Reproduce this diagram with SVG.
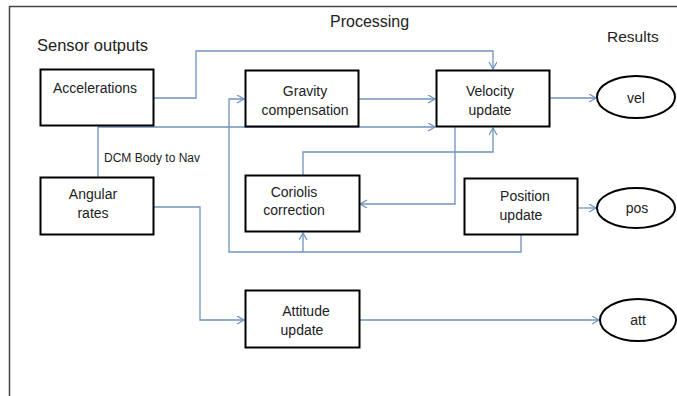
<svg xmlns="http://www.w3.org/2000/svg" width="677" height="396" viewBox="0 0 677 396">
<style>
.box{fill:#fff;stroke:#000;stroke-width:2}
.ell{fill:#fff;stroke:#000;stroke-width:2}
.t{font-family:"Liberation Sans",Arial,sans-serif;font-size:14px;fill:#222;text-anchor:middle}
.h{font-family:"Liberation Sans",Arial,sans-serif;fill:#222}
.c{fill:none;stroke:#7093bf;stroke-width:1.3}
</style>
<defs>
<marker id="arr" markerWidth="10" markerHeight="10" refX="8" refY="4" orient="auto" markerUnits="userSpaceOnUse">
<path d="M1,0 L8,4 L1,8" fill="none" stroke="#7093bf" stroke-width="1.3"/>
</marker>
</defs>
<rect width="677" height="396" fill="#fff"/>
<path d="M9.5,396 L9.5,6.5 L677,6.5" fill="none" stroke="#444" stroke-width="1.5"/>
<text class="h" x="37" y="51" font-size="16.5">Sensor outputs</text>
<text class="h" x="330" y="27" font-size="16">Processing</text>
<text class="h" x="607" y="42" font-size="15.5">Results</text>
<text class="h" x="104" y="162" font-size="12">DCM Body to Nav</text>
<g id="connectors">
<path class="c" d="M153,98 H196 V51 H493 V69" marker-end="url(#arr)"/>
<path class="c" d="M359,99 H435" marker-end="url(#arr)"/>
<path class="c" d="M98,177 V127 H435" marker-end="url(#arr)"/>
<path class="c" d="M521,235 V252 H229 V99 H244" marker-end="url(#arr)"/>
<path class="c" d="M303,252 V233" marker-end="url(#arr)"/>
<path class="c" d="M455,127 V204 H360" marker-end="url(#arr)"/>
<path class="c" d="M303,175 V152 H493 V128" marker-end="url(#arr)"/>
<path class="c" d="M549,98 H596" marker-end="url(#arr)"/>
<path class="c" d="M578,208 H596" marker-end="url(#arr)"/>
<path class="c" d="M153,207 H200 V320 H244" marker-end="url(#arr)"/>
<path class="c" d="M359,320 H599" marker-end="url(#arr)"/>
</g>
<g id="accelerations"><rect class="box" x="40.5" y="69.5" width="113" height="56"/><text class="t" x="95" y="93">Accelerations</text></g>
<g id="angular-rates"><rect class="box" x="40.5" y="177.5" width="113" height="57"/><text class="t" x="93" y="199">Angular</text><text class="t" x="93" y="218">rates</text></g>
<g id="gravity"><rect class="box" x="245.5" y="70.5" width="113" height="56"/><text class="t" x="305" y="96">Gravity</text><text class="t" x="305" y="115">compensation</text></g>
<g id="velocity"><rect class="box" x="436.5" y="70.5" width="113" height="56"/><text class="t" x="490" y="96">Velocity</text><text class="t" x="490" y="115">update</text></g>
<g id="coriolis"><rect class="box" x="245.5" y="175.5" width="114" height="56"/><text class="t" x="294" y="197">Coriolis</text><text class="t" x="294" y="215">correction</text></g>
<g id="position"><rect class="box" x="464.5" y="178.5" width="113" height="56"/><text class="t" x="525" y="201">Position</text><text class="t" x="521" y="220">update</text></g>
<g id="attitude"><rect class="box" x="245.5" y="290.5" width="114" height="57"/><text class="t" x="306" y="316">Attitude</text><text class="t" x="302" y="335">update</text></g>
<g id="vel"><ellipse class="ell" cx="636" cy="97" rx="39" ry="21"/><text class="t" x="636" y="103" font-size="15">vel</text></g>
<g id="pos"><ellipse class="ell" cx="636" cy="208" rx="39" ry="20"/><text class="t" x="637" y="213" font-size="15">pos</text></g>
<g id="att"><ellipse class="ell" cx="638" cy="320" rx="38" ry="21"/><text class="t" x="638" y="325" font-size="15">att</text></g>
</svg>
